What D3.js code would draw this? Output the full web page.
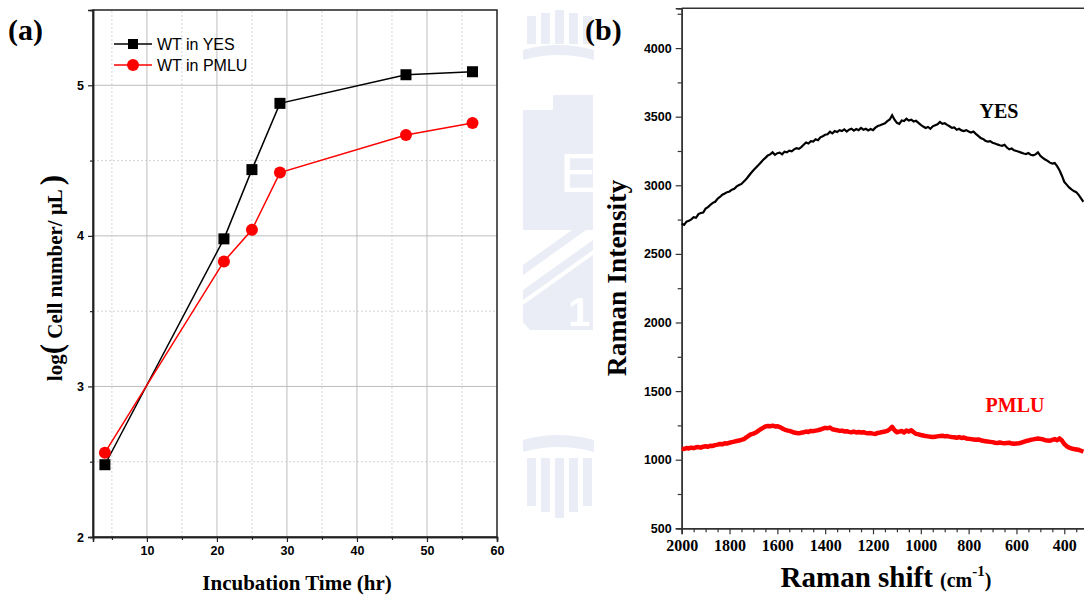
<!DOCTYPE html>
<html>
<head>
<meta charset="utf-8">
<script src="https://cdn.jsdelivr.net/npm/d3@7"></script>
<style>
  body { margin: 0; background: #fff; }
</style>
</head>
<body>
<div id="my_dataviz"></div>
<script>
// ---- data, panel (a) ----
var hours = [4, 21, 25, 29, 47, 56.5];
var yesCells = [2.48, 3.98, 4.44, 4.88, 5.07, 5.09];
var pmluCells = [2.56, 3.83, 4.04, 4.42, 4.67, 4.75];
var xTicksA = [10, 20, 30, 40, 50, 60];
var yTicksA = [2, 3, 4, 5];

// ---- data, panel (b) : Raman spectra, 2000 -> 320 cm-1 every 10 ----
var shiftStart = 2000, shiftEnd = 320, shiftStep = 10;
var yesRaman = [
  2720, 2712, 2735, 2741, 2752, 2768, 2763, 2790, 2798, 2802,
  2830, 2841, 2858, 2872, 2880, 2902, 2915, 2931, 2940, 2950,
  2955, 2968, 2975, 2992, 3002, 3010, 3028, 3045, 3068, 3090,
  3110, 3128, 3146, 3165, 3184, 3200, 3218, 3225, 3240, 3222,
  3234, 3238, 3226, 3245, 3240, 3252, 3248, 3262, 3270, 3266,
  3278, 3295, 3312, 3305, 3322, 3318, 3335, 3328, 3350, 3358,
  3368, 3372, 3390, 3378, 3395, 3388, 3402, 3395, 3408, 3392,
  3405, 3412, 3398, 3410, 3402, 3418, 3405, 3412, 3400, 3410,
  3402, 3420, 3432, 3438, 3445, 3452, 3468, 3480, 3510, 3478,
  3455, 3448, 3472, 3468, 3485, 3472, 3478, 3465, 3470, 3455,
  3440, 3428, 3418, 3425, 3412, 3430, 3438, 3445, 3462, 3448,
  3452, 3440, 3430, 3418, 3422, 3405, 3412, 3400, 3395, 3402,
  3392, 3385, 3392, 3375, 3360, 3345, 3338, 3325, 3318, 3322,
  3310, 3305, 3298, 3292, 3288, 3295, 3275, 3262, 3268, 3255,
  3250, 3245, 3238, 3232, 3228, 3235, 3222, 3218, 3225, 3240,
  3215, 3200, 3188, 3178, 3165, 3158, 3162, 3140, 3110, 3070,
  3025, 3005, 2985, 2970, 2958, 2950, 2930, 2905, 2880
];
var pmluRaman = [
  1080, 1078, 1085, 1082, 1088, 1084, 1090, 1092, 1088, 1095,
  1098, 1094, 1102, 1100, 1106, 1110, 1115, 1112, 1120, 1118,
  1124, 1128, 1132, 1136, 1140, 1145, 1150, 1162, 1175, 1185,
  1190, 1198, 1210, 1222, 1232, 1242, 1245, 1243, 1248, 1242,
  1244, 1238, 1228, 1220, 1214, 1210, 1204, 1198, 1195, 1192,
  1196, 1200, 1205, 1202, 1210, 1208, 1212, 1215, 1220, 1226,
  1232, 1230, 1234, 1222, 1218, 1215, 1210, 1212, 1206, 1208,
  1203, 1200, 1205, 1198, 1202, 1198, 1200, 1195, 1192, 1194,
  1190, 1188, 1195, 1198, 1202, 1205, 1210, 1222, 1240, 1215,
  1200, 1205, 1210, 1198, 1212, 1205, 1215, 1200, 1188, 1185,
  1180, 1176, 1172, 1170, 1168, 1166, 1168, 1170, 1172, 1175,
  1170, 1172, 1168, 1165, 1163, 1160, 1165, 1158, 1162, 1155,
  1152, 1150, 1148, 1146, 1148, 1142, 1138, 1135, 1132, 1130,
  1128, 1124, 1122, 1125, 1122, 1120, 1122, 1124, 1118, 1116,
  1118, 1120, 1124, 1130, 1136, 1140, 1145, 1148, 1152, 1155,
  1152, 1148, 1142, 1140, 1138, 1145, 1150, 1142, 1155, 1140,
  1115, 1098, 1088, 1082, 1078, 1075, 1072, 1065, 1058
];
var xTicksB = [2000, 1800, 1600, 1400, 1200, 1000, 800, 600, 400];
var yTicksB = [500, 1000, 1500, 2000, 2500, 3000, 3500, 4000];

var W = 1084, H = 598;
var serif = "'Liberation Serif', 'Times New Roman', serif";
var sans = "'Liberation Sans', Arial, sans-serif";
var fmt = d3.format("d");

var svg = d3.select("#my_dataviz")
  .append("svg")
    .attr("width", W)
    .attr("height", H);

// faint watermark logo between the panels
var wm = svg.append("g").attr("fill", "#eaedf6");
[527, 541, 555, 569, 583].forEach(function(x, i) {
  wm.append("rect").attr("x", x).attr("y", 10 + Math.abs(2 - i) * 3).attr("width", 9).attr("height", 34 - Math.abs(2 - i) * 3);
});
wm.append("path").attr("d", "M523,50 Q558,40 594,50 L594,60 Q558,50 523,60 Z");
wm.append("rect").attr("x", 523).attr("y", 110).attr("width", 30).attr("height", 120);
wm.append("rect").attr("x", 553).attr("y", 95).attr("width", 40).attr("height", 135);
wm.append("path").attr("d", "M523,290 L593,240 L593,250 L523,300 Z");
wm.append("path").attr("d", "M523,265 L593,215 L593,225 L523,275 Z");
wm.append("path").attr("d", "M523,305 L593,255 L593,330 L530,330 L523,322 Z");
wm.append("path").attr("d", "M523,440 Q558,430 594,440 L594,452 Q558,442 523,452 Z");
[527, 541, 555, 569, 583].forEach(function(x, i) {
  wm.append("rect").attr("x", x).attr("y", 458).attr("width", 9).attr("height", 60 - Math.abs(2 - i) * 6);
});
// cut-outs
svg.append("text").attr("x", 560).attr("y", 192).attr("font-family", sans).attr("font-size", 56)
  .attr("fill", "#fff").text("E");
svg.append("text").attr("x", 568).attr("y", 326).attr("font-family", sans).attr("font-weight", "bold")
  .attr("font-size", 40).attr("fill", "#fff").text("1");

// ================= panel (a) =================
var xA = d3.scaleLinear().domain([2.3, 60]).range([93, 497]);
var yA = d3.scaleLinear().domain([2, 5.5]).range([537, 10]);

var ga = svg.append("g");

// minor grid (dashed)
ga.selectAll("vminor").data([5, 15, 25, 35, 45, 55]).enter().append("line")
  .attr("x1", function(d) { return xA(d); }).attr("x2", function(d) { return xA(d); })
  .attr("y1", yA(2)).attr("y2", yA(5.5))
  .attr("stroke", "#d6d6d6").attr("stroke-dasharray", "2,2");
ga.selectAll("hminor").data([2.5, 3.5, 4.5]).enter().append("line")
  .attr("y1", function(d) { return yA(d); }).attr("y2", function(d) { return yA(d); })
  .attr("x1", xA(2.3)).attr("x2", xA(60))
  .attr("stroke", "#d6d6d6").attr("stroke-dasharray", "2,2");
// major grid
ga.selectAll("vmajor").data([10, 20, 30, 40, 50]).enter().append("line")
  .attr("x1", function(d) { return xA(d); }).attr("x2", function(d) { return xA(d); })
  .attr("y1", yA(2)).attr("y2", yA(5.5))
  .attr("stroke", "#bdbdbd");
ga.selectAll("hmajor").data([3, 4, 5]).enter().append("line")
  .attr("y1", function(d) { return yA(d); }).attr("y2", function(d) { return yA(d); })
  .attr("x1", xA(2.3)).attr("x2", xA(60))
  .attr("stroke", "#bdbdbd");

// frame
ga.append("rect")
  .attr("x", xA(2.3)).attr("y", yA(5.5))
  .attr("width", xA(60) - xA(2.3)).attr("height", yA(2) - yA(5.5))
  .attr("fill", "none").attr("stroke", "#222").attr("stroke-width", 1.5);

// axes
ga.append("g").attr("transform", "translate(0," + yA(2) + ")")
  .call(d3.axisBottom(xA).tickValues(xTicksA).tickFormat(fmt).tickSize(5).tickPadding(4));
ga.append("g").attr("transform", "translate(0," + yA(2) + ")")
  .call(d3.axisBottom(xA).tickValues([5, 15, 25, 35, 45, 55]).tickSize(3).tickFormat(""));
ga.append("g").attr("transform", "translate(" + xA(2.3) + ",0)")
  .call(d3.axisLeft(yA).tickValues(yTicksA).tickFormat(fmt).tickSize(5).tickPadding(4));
ga.append("g").attr("transform", "translate(" + xA(2.3) + ",0)")
  .call(d3.axisLeft(yA).tickValues([2.5, 3.5, 4.5]).tickSize(3).tickFormat(""));
ga.selectAll(".domain").attr("stroke", "#222").attr("stroke-width", 1.5);
ga.selectAll(".tick line").attr("stroke", "#222").attr("stroke-width", 1.2);
ga.selectAll(".tick text").attr("font-family", sans).attr("font-weight", "bold")
  .attr("font-size", 12.5).attr("fill", "#000");

// lines + markers
var lineA = d3.line().x(function(d) { return xA(d[0]); }).y(function(d) { return yA(d[1]); });
var yesPts = d3.zip(hours, yesCells), pmluPts = d3.zip(hours, pmluCells);
ga.append("path").datum(yesPts).attr("d", lineA).attr("fill", "none").attr("stroke", "#000").attr("stroke-width", 1.5);
ga.append("path").datum(pmluPts).attr("d", lineA).attr("fill", "none").attr("stroke", "#f00").attr("stroke-width", 1.5);
ga.selectAll("sq").data(yesPts).enter().append("rect")
  .attr("x", function(d) { return xA(d[0]) - 5.5; })
  .attr("y", function(d) { return yA(d[1]) - 5.5; })
  .attr("width", 11).attr("height", 11).attr("fill", "#000");
ga.selectAll("ci").data(pmluPts).enter().append("circle")
  .attr("cx", function(d) { return xA(d[0]); })
  .attr("cy", function(d) { return yA(d[1]); })
  .attr("r", 6).attr("fill", "#f00");

// legend
var leg = ga.append("g");
leg.append("line").attr("x1", 114).attr("x2", 152).attr("y1", 44).attr("y2", 44).attr("stroke", "#000").attr("stroke-width", 1.5);
leg.append("rect").attr("x", 128).attr("y", 39).attr("width", 10).attr("height", 10).attr("fill", "#000");
leg.append("text").attr("x", 157).attr("y", 50).attr("font-family", sans).attr("font-size", 16).text("WT in YES");
leg.append("line").attr("x1", 114).attr("x2", 152).attr("y1", 65).attr("y2", 65).attr("stroke", "#f00").attr("stroke-width", 1.5);
leg.append("circle").attr("cx", 133).attr("cy", 65).attr("r", 6).attr("fill", "#f00");
leg.append("text").attr("x", 157).attr("y", 71).attr("font-family", sans).attr("font-size", 16).text("WT in PMLU");

// labels
svg.append("text").attr("x", 8).attr("y", 40).attr("font-family", serif).attr("font-weight", "bold")
  .attr("font-size", 30).text("(a)");
svg.append("text").attr("x", 297).attr("y", 590).attr("text-anchor", "middle")
  .attr("font-family", serif).attr("font-weight", "bold").attr("font-size", 21).text("Incubation Time (hr)");
var ylabA = svg.append("text").attr("transform", "translate(62,278) rotate(-90)")
  .attr("text-anchor", "middle").attr("font-family", serif).attr("font-weight", "bold").attr("font-size", 21);
ylabA.append("tspan").text("log");
ylabA.append("tspan").attr("font-size", 31).text("(");
ylabA.append("tspan").text(" Cell number/ \u03bcL ");
ylabA.append("tspan").attr("font-size", 31).text(")");

// ================= panel (b) =================
var xB = d3.scaleLinear().domain([2000, 300]).range([681.7, 1088.2]);
var yB = d3.scaleLinear().domain([500, 4290]).range([528.3, 8.3]);
var shifts = d3.range(shiftStart, shiftEnd - 1, -shiftStep);

var gb = svg.append("g");
gb.append("line").attr("x1", xB(2000)).attr("x2", W).attr("y1", yB(4290)).attr("y2", yB(4290))
  .attr("stroke", "#333").attr("stroke-width", 1.5);

var axB_x = gb.append("g").attr("transform", "translate(0," + yB(500) + ")")
  .call(d3.axisBottom(xB).tickValues(xTicksB).tickFormat(fmt).tickSize(6).tickPadding(5));
gb.append("g").attr("transform", "translate(0," + yB(500) + ")")
  .call(d3.axisBottom(xB).tickValues([1950, 1900, 1850, 1750, 1700, 1650, 1550, 1500, 1450, 1350, 1300, 1250,
    1150, 1100, 1050, 950, 900, 850, 750, 700, 650, 550, 500, 450, 350]).tickSize(4).tickFormat(""));
axB_x.selectAll(".tick text").attr("font-family", serif).attr("font-weight", "bold").attr("font-size", 16).attr("fill", "#000");
var axB_y = gb.append("g").attr("transform", "translate(" + xB(2000) + ",0)")
  .call(d3.axisLeft(yB).tickValues(yTicksB).tickFormat(fmt).tickSize(6).tickPadding(4));
gb.append("g").attr("transform", "translate(" + xB(2000) + ",0)")
  .call(d3.axisLeft(yB).tickValues([750, 1250, 1750, 2250, 2750, 3250, 3750, 4250]).tickSize(4).tickFormat(""));
axB_y.selectAll(".tick text").attr("font-family", sans).attr("font-weight", "bold").attr("font-size", 12.5).attr("fill", "#000");
gb.selectAll(".domain").attr("stroke", "#333").attr("stroke-width", 1.5);
gb.selectAll(".tick line").attr("stroke", "#333").attr("stroke-width", 1.2);

var lineB = d3.line().x(function(d) { return xB(d[0]); }).y(function(d) { return yB(d[1]); });
gb.append("path").datum(d3.zip(shifts, pmluRaman)).attr("d", lineB)
  .attr("fill", "none").attr("stroke", "#f00").attr("stroke-width", 4.5).attr("stroke-linejoin", "round");
gb.append("path").datum(d3.zip(shifts, yesRaman)).attr("d", lineB)
  .attr("fill", "none").attr("stroke", "#000").attr("stroke-width", 2.2);

gb.append("text").attr("x", 999).attr("y", 118).attr("text-anchor", "middle")
  .attr("font-family", serif).attr("font-weight", "bold").attr("font-size", 20).text("YES");
gb.append("text").attr("x", 1015).attr("y", 412).attr("text-anchor", "middle")
  .attr("font-family", serif).attr("font-weight", "bold").attr("font-size", 20).attr("fill", "#f00").text("PMLU");

svg.append("text").attr("x", 585).attr("y", 40).attr("font-family", serif).attr("font-weight", "bold")
  .attr("font-size", 30).text("(b)");
var xlabB = svg.append("text").attr("x", 886).attr("y", 587).attr("text-anchor", "middle")
  .attr("font-family", serif).attr("font-weight", "bold").attr("font-size", 29);
xlabB.append("tspan").text("Raman shift ");
xlabB.append("tspan").attr("font-size", 20).text("(cm");
xlabB.append("tspan").attr("font-size", 15).attr("dy", -11).text("-1");
xlabB.append("tspan").attr("font-size", 20).attr("dy", 11).text(")");
svg.append("text").attr("transform", "translate(626,278) rotate(-90)").attr("text-anchor", "middle")
  .attr("font-family", serif).attr("font-weight", "bold").attr("font-size", 27.5).text("Raman Intensity");
</script>
</body>
</html>
